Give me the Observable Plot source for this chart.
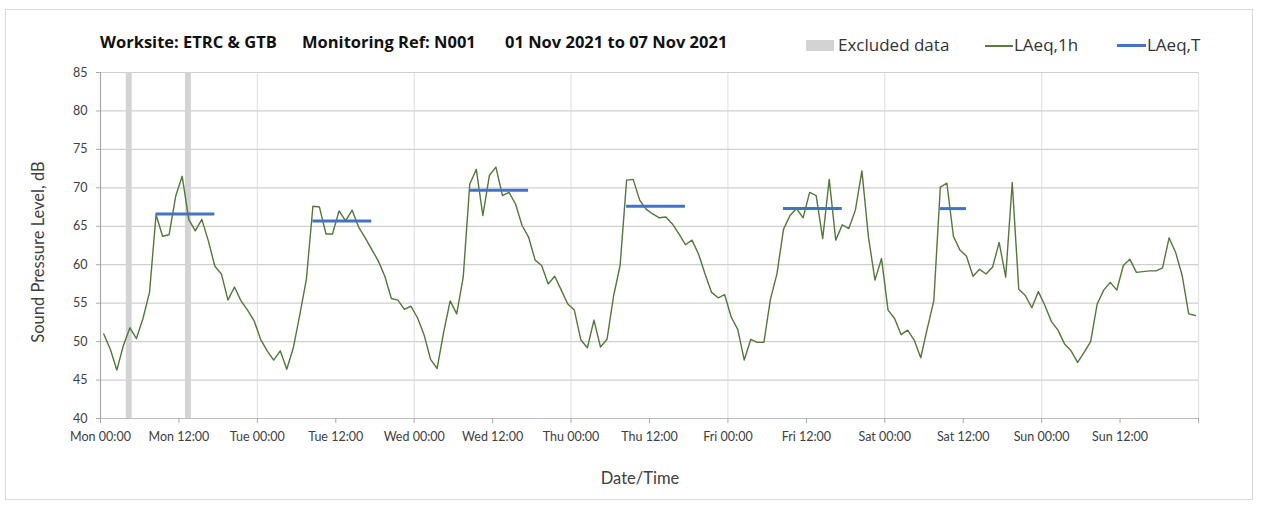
<!DOCTYPE html>
<html>
<head>
<meta charset="utf-8">
<script src="https://cdn.jsdelivr.net/npm/d3@7"></script>
<script src="https://cdn.jsdelivr.net/npm/@observablehq/plot@0.6"></script>
<style>
  html, body { margin: 0; padding: 0; background: #fff; }
  #wrap { position: relative; width: 1261px; height: 511px; overflow: hidden; font-family: Lato, "Open Sans", sans-serif; color: #404040; }
  #frame { position: absolute; left: 5px; top: 9px; width: 1248px; height: 491px; border: 1px solid #d9d9d9; box-sizing: border-box; }
  #chart { position: absolute; left: 0; top: 0; }
  .t { position: absolute; white-space: nowrap; }
  .title { font-family: "Open Sans", Lato, sans-serif; font-weight: bold; font-size: 16.5px; color: #111; top: 30px; }
  .leg { font-family: "Open Sans", Lato, sans-serif; font-size: 17px; color: #333; top: 33px; }
  .sw { position: absolute; }
</style>
</head>
<body>
<div id="wrap">
  <div id="frame"></div>
  <div id="chart"></div>
  <div class="t title" style="left:100px">Worksite: ETRC &amp; GTB</div>
  <div class="t title" style="left:302px">Monitoring Ref: N001</div>
  <div class="t title" style="left:505px">01 Nov 2021 to 07 Nov 2021</div>
  <div class="sw" style="left:806px;top:40px;width:28px;height:11px;background:#d3d3d3"></div>
  <div class="t leg" style="left:838px">Excluded data</div>
  <div class="sw" style="left:985px;top:45px;width:28px;height:1.5px;background:#5a7d3e"></div>
  <div class="t leg" style="left:1014px">LAeq,1h</div>
  <div class="sw" style="left:1117px;top:44px;width:29px;height:3px;background:#4472c4"></div>
  <div class="t leg" style="left:1147px">LAeq,T</div>
  <div class="t" style="left:38px;top:252px;font-size:16.5px;transform:translate(-50%,-50%) rotate(-90deg);">Sound Pressure Level, dB</div>
  <div class="t" style="left:640px;top:478px;font-size:16.5px;transform:translate(-50%,-50%);">Date/Time</div>
</div>
<script>
// LAeq,1h hourly values, Mon 00:00 .. Sun 23:00 (01-07 Nov 2021)
const lAeq1h = [
  51.0, 49.0, 46.3, 49.5, 51.8, 50.4, 53.0, 56.4, 66.5, 63.7, 63.9, 68.9,
  71.5, 65.9, 64.4, 65.9, 63.1, 59.8, 58.8, 55.4, 57.1, 55.3, 54.1, 52.7,
  50.3, 48.8, 47.6, 48.8, 46.4, 49.2, 53.5, 58.1, 67.6, 67.5, 64.0, 64.0,
  67.0, 65.7, 67.1, 64.9, 63.5, 62.0, 60.5, 58.5, 55.6, 55.4, 54.2, 54.6,
  53.1, 50.9, 47.7, 46.5, 51.2, 55.3, 53.6, 58.4, 70.5, 72.4, 66.4, 71.6,
  72.7, 69.0, 69.4, 67.9, 65.1, 63.6, 60.6, 59.9, 57.5, 58.5, 56.7, 54.9,
  54.1, 50.2, 49.2, 52.8, 49.3, 50.3, 55.9, 59.9, 71.0, 71.1, 68.4, 67.2,
  66.6, 66.1, 66.2, 65.3, 64.0, 62.6, 63.2, 61.4, 58.8, 56.4, 55.7, 56.1,
  53.2, 51.6, 47.6, 50.3, 49.9, 49.9, 55.5, 58.8, 64.6, 66.4, 67.3, 66.1,
  69.4, 69.0, 63.4, 71.1, 63.2, 65.2, 64.7, 67.1, 72.2, 63.6, 58.0, 60.8,
  54.1, 53.0, 50.9, 51.5, 50.2, 47.9, 51.7, 55.3, 70.1, 70.6, 63.7, 61.9,
  61.1, 58.5, 59.4, 58.8, 59.7, 62.9, 58.4, 70.7, 56.8, 56.0, 54.4, 56.5,
  54.7, 52.6, 51.5, 49.7, 48.8, 47.3, 48.6, 50.0, 54.9, 56.7, 57.7, 56.7,
  59.9, 60.7, 59.0, 59.1, 59.2, 59.2, 59.6, 63.5, 61.6, 58.6, 53.6, 53.4
];
// LAeq,T periods (hours from Mon 00:00)
const periodStart = [8.5, 32.5, 56.5, 80.5, 104.5, 128.5];
const periodEnd   = [17.5, 41.5, 65.5, 89.5, 113.5, 132.5];
const periodLAeqT = [66.6, 65.7, 69.7, 67.6, 67.3, 67.3];
// Excluded data intervals (hours from Mon 00:00)
const excludedStart = [3.95, 13.0];
const excludedEnd   = [4.85, 13.9];
// axis ticks
const xTickHours  = [0, 12, 24, 36, 48, 60, 72, 84, 96, 108, 120, 132, 144, 156, 168];
const xTickLabels = ["Mon 00:00","Mon 12:00","Tue 00:00","Tue 12:00","Wed 00:00","Wed 12:00",
  "Thu 00:00","Thu 12:00","Fri 00:00","Fri 12:00","Sat 00:00","Sat 12:00","Sun 00:00","Sun 12:00",""];
const dayGridHours = [24, 48, 72, 96, 120, 144, 168];
const yTicks = [40, 45, 50, 55, 60, 65, 70, 75, 80, 85];

const series = lAeq1h.map((v, i) => ({t: i + 0.5, v}));
const periods = periodStart.map((s, i) => ({x1: s, x2: periodEnd[i], y: periodLAeqT[i]}));
const excluded = excludedStart.map((s, i) => ({x1: s, x2: excludedEnd[i]}));

const chart = Plot.plot({
  width: 1261,
  height: 511,
  marginLeft: 100,
  marginRight: 63,
  marginTop: 72,
  marginBottom: 93,
  style: {fontFamily: "Lato, 'Open Sans', sans-serif", fontSize: "12.5px", color: "#404040", background: "transparent"},
  x: {domain: [0, 168]},
  y: {domain: [40, 85]},
  marks: [
    Plot.ruleX(dayGridHours, {stroke: "#e2e2e2", strokeWidth: 1.2}),
    Plot.ruleY(yTicks.filter(d => d > 40), {stroke: "#cfcfcf", strokeWidth: 1.2}),
    Plot.rect(excluded, {x1: "x1", x2: "x2", y1: 40, y2: 85, fill: "#d3d3d3"}),
    Plot.ruleY([40], {stroke: "#bdbdbd", strokeWidth: 1.2}),
    Plot.ruleX([0], {stroke: "#a8a8a8", strokeWidth: 1.2}),
    Plot.axisY({ticks: yTicks, tickSize: 4, tickPadding: 9, label: null, stroke: "#a8a8a8"}),
    Plot.axisX({ticks: xTickHours, tickFormat: (d) => xTickLabels[xTickHours.indexOf(d)], tickSize: 5, tickPadding: 9, label: null, stroke: "#a8a8a8"}),
    Plot.line(series, {x: "t", y: "v", stroke: "#54773a", strokeWidth: 1.4}),
    Plot.ruleY(periods, {x1: "x1", x2: "x2", y: "y", stroke: "#4472c4", strokeWidth: 3})
  ]
});
document.getElementById("chart").appendChild(chart);
</script>
</body>
</html>
